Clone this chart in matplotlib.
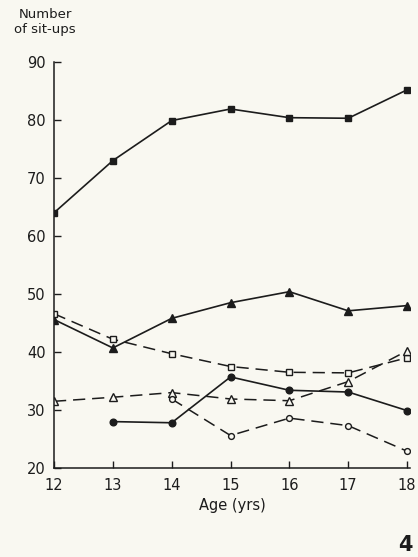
import matplotlib.pyplot as plt

# Age groups (years)
ages = [12, 13, 14, 15, 16, 17, 18]

# Sit-up counts, one list per curve
filled_square = [64.0, 73.0, 79.9, 81.9, 80.4, 80.3, 85.2]
filled_triangle = [45.6, 40.7, 45.8, 48.5, 50.4, 47.1, 48.0]
open_square = [46.6, 42.2, 39.7, 37.5, 36.5, 36.4, 39.0]
open_triangle = [31.5, 32.2, 33.0, 31.9, 31.6, 34.9, 40.2]
open_circle_ages = [14, 15, 16, 17, 18]
open_circle = [31.9, 25.6, 28.6, 27.3, 22.9]
filled_circle_ages = [13, 14, 15, 16, 17, 18]
filled_circle = [28.0, 27.8, 35.7, 33.4, 33.1, 29.9]

y_ticks = [20, 30, 40, 50, 60, 70, 80, 90]

bg = "#f9f8f1"
ink = "#1c1c1c"

fig = plt.figure(figsize=(4.18, 5.57), dpi=100, facecolor=bg)
ax = fig.add_axes([54 / 418, 1 - 468 / 557, (410 - 54) / 418, (468 - 62) / 557])
ax.set_facecolor(bg)

dash = (0, (8, 4.5))
# solid curves with filled markers
ax.plot(ages, filled_square, color=ink, lw=1.2, marker="s", ms=4.2, mfc=ink, mec=ink)
ax.plot(ages, filled_triangle, color=ink, lw=1.2, marker="^", ms=5.2, mfc=ink, mec=ink)
ax.plot(filled_circle_ages, filled_circle, color=ink, lw=1.2, marker="o", ms=4.8, mfc=ink, mec=ink)
# dashed curves with open markers
ax.plot(ages, open_square, color=ink, lw=1.1, ls=dash, marker="s", ms=4.5, mfc=bg, mec=ink, mew=1)
ax.plot(ages, open_triangle, color=ink, lw=1.1, ls=dash, marker="^", ms=5.2, mfc=bg, mec=ink, mew=1)
ax.plot(open_circle_ages, open_circle, color=ink, lw=1.1, ls=dash, marker="o", ms=4.2, mfc=bg, mec=ink, mew=1)

ax.set_xlim(12, 18.05)
ax.set_ylim(20, 90)
ax.set_xticks(ages)
ax.set_yticks(y_ticks)
ax.tick_params(direction="in", length=5, width=1, colors=ink, labelsize=10.5)
ax.tick_params(axis="y", pad=6)
ax.tick_params(axis="x", pad=7)
for s in ["top", "right"]:
    ax.spines[s].set_visible(False)
for s in ["left", "bottom"]:
    ax.spines[s].set_color(ink)
    ax.spines[s].set_linewidth(1.1)

ax.set_xlabel("Age (yrs)", fontsize=10.5, color=ink, labelpad=4)
fig.text(45 / 418, 1 - 22 / 557, "Number\nof sit-ups", ha="center", va="center",
         fontsize=9.5, color=ink, linespacing=1.15)
fig.text(405 / 418, 1 - 545 / 557, "4", ha="center", va="center",
         fontsize=15, fontweight="bold", color=ink)

fig.savefig("out.png", dpi=100, facecolor=bg)
